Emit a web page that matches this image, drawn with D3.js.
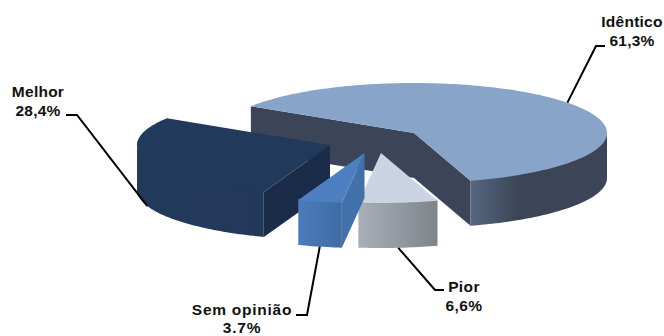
<!DOCTYPE html>
<html><head><meta charset="utf-8">
<script src="https://cdnjs.cloudflare.com/ajax/libs/d3/7.8.5/d3.min.js"></script>
<style>html,body{margin:0;padding:0;background:#fff}svg{display:block}
text{font-family:"Liberation Sans",Arial,sans-serif;font-weight:bold;font-size:15.5px;fill:#111}</style>
</head><body><svg id="c" width="664" height="336"></svg>
<script>
const categories = ["Idêntico", "Pior", "Sem opinião", "Melhor"];
const values = [61.3, 6.6, 3.7, 28.4];
const valueLabels = ["61,3%", "6,6%", "3.7%", "28,4%"];

// Projection and look of the tilted pie
const RX = 193, RY = 50, DEPTH = 45, START = -57.7 * Math.PI / 180;
const apexes = [[414,133],[381,153],[364.5,153],[330,145]];
const tops = ["#88a5c9","#cad4e2","#4e80c1","#213a5c"];
const wallsIn = ["#3c4557","#8a9098","#4270aa","#1a2c47"];
const outerA = ["#566680","#a8afb7","#4a7cbb","#213a5c"];
const outerB = ["#3c4557","#7f848b","#3f6ba3","#22385a"];
const outerStops = [0.35,1,1,1];
const labelPos = [[632,27],[464,292],[242,315],[38,97]];
const labelGap = [19,19,18,19];
const labelSpacing = [0.25,0.4,0.75,0.25];
const elbows = [[[596,46],[605,46]],[[435,290],[444,290]],[[307,315],[296,315]],[[77,115],[66,115]]];

const svg = d3.select("#c");
const defs = svg.append("defs");
const sx = d3.scaleLinear().domain([-1,1]).range([-RX,RX]);
const sy = d3.scaleLinear().domain([-1,1]).range([-RY,RY]);
const pie = d3.pie().sort(null).startAngle(START).endAngle(START + 2*Math.PI);
const arcs = pie(values);
const pt = (i,a,dz=0)=>[apexes[i][0]+sx(Math.sin(a)), apexes[i][1]+sy(-Math.cos(a))+dz];
const line = d3.line();
const sample = (a0,a1)=>{const n=Math.max(2,Math.ceil(Math.abs(a1-a0)/0.02));return d3.range(n+1).map(k=>a0+(a1-a0)*k/n);};

// painter's order: back slice first
[0,3,1,2].forEach(i=>{
  const d = arcs[i], a0=d.startAngle, a1=d.endAngle, c=apexes[i];
  const g = svg.append("g").attr("class","slice").attr("data-name",categories[i]);
  // flat cut walls, shown only when they face the viewer
  [[a0,1],[a1,-1]].forEach(([a,sgn])=>{
    const p=pt(i,a), v=[p[0]-c[0],p[1]-c[1]];
    if(sgn*v[0] >= 0) return;
    g.append("path").attr("fill",wallsIn[i])
      .attr("d",line([c,p,[p[0],p[1]+DEPTH],[c[0],c[1]+DEPTH]])+"Z");
  });
  // curved outer wall: the part of the arc on the front half (tucked 1px under the top face)
  const fa0=Math.max(a0,Math.PI/2), fa1=Math.min(a1,3*Math.PI/2);
  if(fa1>fa0){
    const top=sample(fa0,fa1).map(a=>pt(i,a,-1));
    const bot=sample(fa0,fa1).reverse().map(a=>pt(i,a,DEPTH));
    const xs=top.map(p=>p[0]);
    const gid="g"+i;
    const lg=defs.append("linearGradient").attr("id",gid).attr("gradientUnits","userSpaceOnUse")
      .attr("x1",d3.min(xs)).attr("x2",d3.max(xs)).attr("y1",0).attr("y2",0);
    lg.append("stop").attr("offset",0).attr("stop-color",outerA[i]);
    lg.append("stop").attr("offset",outerStops[i]).attr("stop-color",outerB[i]);
    g.append("path").attr("fill",`url(#${gid})`)
      .attr("d",line(top.concat(bot))+"Z");
  }
  // top face
  g.append("path").attr("fill",tops[i])
    .attr("d",line([c].concat(sample(a0,a1).map(a=>pt(i,a))))+"Z");
});

// leader lines and labels
categories.forEach((name,i)=>{
  const d=arcs[i], mid=(d.startAngle+d.endAngle)/2;
  const p=pt(i,mid, Math.cos(mid)<0?DEPTH:0);
  svg.append("path").attr("fill","none").attr("stroke","#000").attr("stroke-width",2)
    .attr("d",line([p].concat(elbows[i])));
  const t=svg.append("text").attr("text-anchor","middle");
  t.append("tspan").attr("x",labelPos[i][0]).attr("y",labelPos[i][1]).style("letter-spacing",labelSpacing[i]+"px").text(name);
  t.append("tspan").attr("x",labelPos[i][0]).attr("y",labelPos[i][1]+labelGap[i]).style("letter-spacing",labelSpacing[i]+"px").text(valueLabels[i]);
});
</script></body></html>
